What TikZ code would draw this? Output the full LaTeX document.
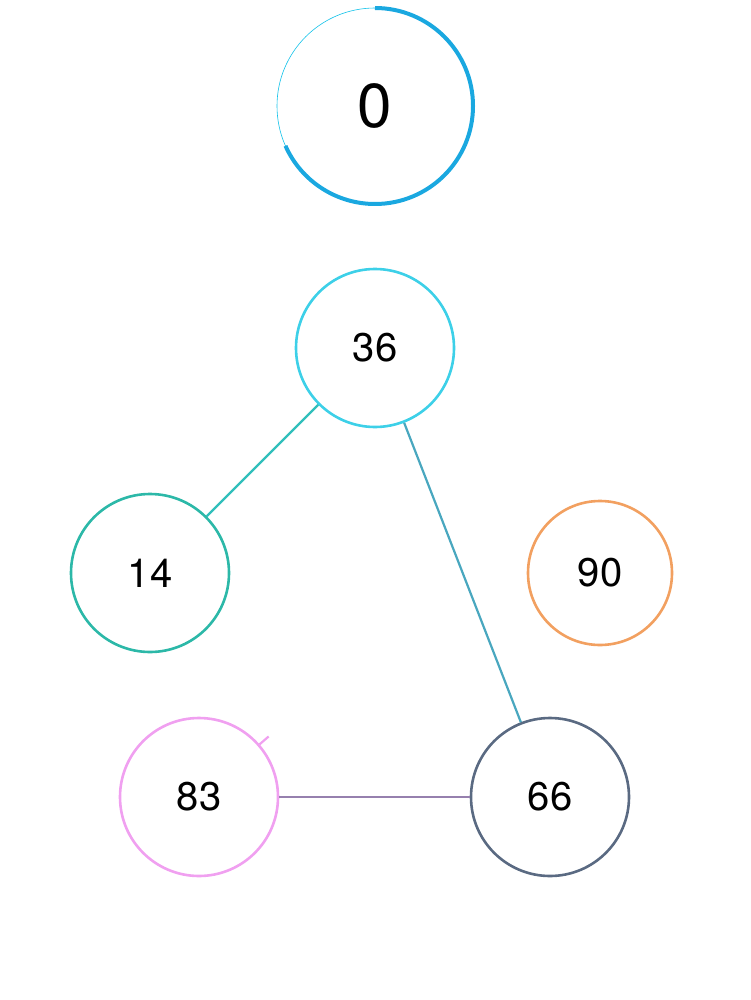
\documentclass[tikz,border=0pt]{standalone}
\usepackage{fontspec}
\setmainfont{TeX Gyre Heros}
\begin{document}
\begin{tikzpicture}[x=1pt,y=-1pt,
  nd/.style={circle,draw,line width=2.6pt,minimum size=#1,inner sep=0pt,font=\fontsize{40}{40}\selectfont},
  ln/.style={line width=2.2pt}]
\useasboundingbox (0,0) rectangle (750,1000);
\definecolor{cA}{HTML}{3DD0E8}
\definecolor{cB}{HTML}{2CB8A8}
\definecolor{cC}{HTML}{F2A060}
\definecolor{cD}{HTML}{F0A0F0}
\definecolor{cE}{HTML}{5A6A82}
\definecolor{cT}{HTML}{1AA8E0}
% top progress circle
\node[circle,draw=cT!70!cyan,line width=0.6pt,minimum size=196pt,inner sep=0pt,font=\fontsize{62}{62}\selectfont] (z) at (375,106) {0};
\draw[cT,line width=4pt] (375,106) ++(-90:98) arc[start angle=-90,end angle=156,radius=98];
\node[nd=158pt,draw=cA] (a) at (375,348) {36};
\node[nd=158pt,draw=cB] (b) at (150,573) {14};
\node[nd=144pt,draw=cC] (c) at (600,573) {90};
\node[nd=158pt,draw=cD] (d) at (199,797) {83};
\node[nd=158pt,draw=cE] (e) at (550,797) {66};
\draw[ln,color=cB!70!cA] (a) -- (b);
\draw[ln,color=cA!60!cE] (a) -- (e);
\draw[ln,color=cE!60!cD] (d) -- (e);
\draw[cD,line width=2.2pt] (d.41) -- ++(-41:12);
\end{tikzpicture}
\end{document}
